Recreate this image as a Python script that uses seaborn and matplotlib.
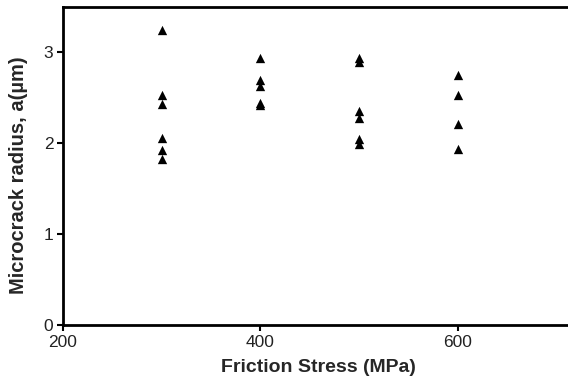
import matplotlib
matplotlib.use("Agg")
import matplotlib.pyplot as plt
import seaborn as sns
import pandas as pd

friction_stress = [300, 300, 300, 300, 300, 300,
                   400, 400, 400, 400, 400,
                   500, 500, 500, 500, 500, 500,
                   600, 600, 600, 600]
crack_radius = [3.24, 2.53, 2.43, 2.06, 1.92, 1.82,
                2.93, 2.69, 2.63, 2.44, 2.42,
                2.93, 2.89, 2.35, 2.28, 2.04, 1.99,
                2.75, 2.53, 2.21, 1.93]
x_ticks = [200, 400, 600]
y_ticks = [0, 1, 2, 3]

df = pd.DataFrame({"Friction Stress (MPa)": friction_stress,
                   "radius": crack_radius})

sns.set_style("white")
plt.rcParams['font.family'] = ['Liberation Sans', 'DejaVu Sans']

fig = plt.figure(figsize=(5.68, 3.78), dpi=100)
ax = fig.add_axes([63/568, 53/378, 511/568, 318/378])

sns.scatterplot(data=df, x="Friction Stress (MPa)", y="radius", marker="^",
                color="black", s=45, edgecolor="black", linewidth=0, ax=ax)

ax.set_xlim(200, 200 + 511/197.5*200)
ax.set_ylim(0, 318/91)
ax.set_xticks(x_ticks)
ax.set_yticks(y_ticks)
ax.tick_params(axis='both', direction='out', length=4.5, width=1.5, labelsize=12.5,
               color='black', labelcolor='#222222', bottom=True, left=True, pad=2.5)
for sp in ax.spines.values():
    sp.set_linewidth(2)
    sp.set_color('black')
ax.set_xlabel("Friction Stress (MPa)", fontsize=14, fontweight='bold', labelpad=7)
ax.set_ylabel("Microcrack radius, a(\u00b5m)", fontsize=14.5, fontweight='bold')
ax.yaxis.set_label_coords(-0.068, 0.47)

fig.savefig("out.png", dpi=100)
